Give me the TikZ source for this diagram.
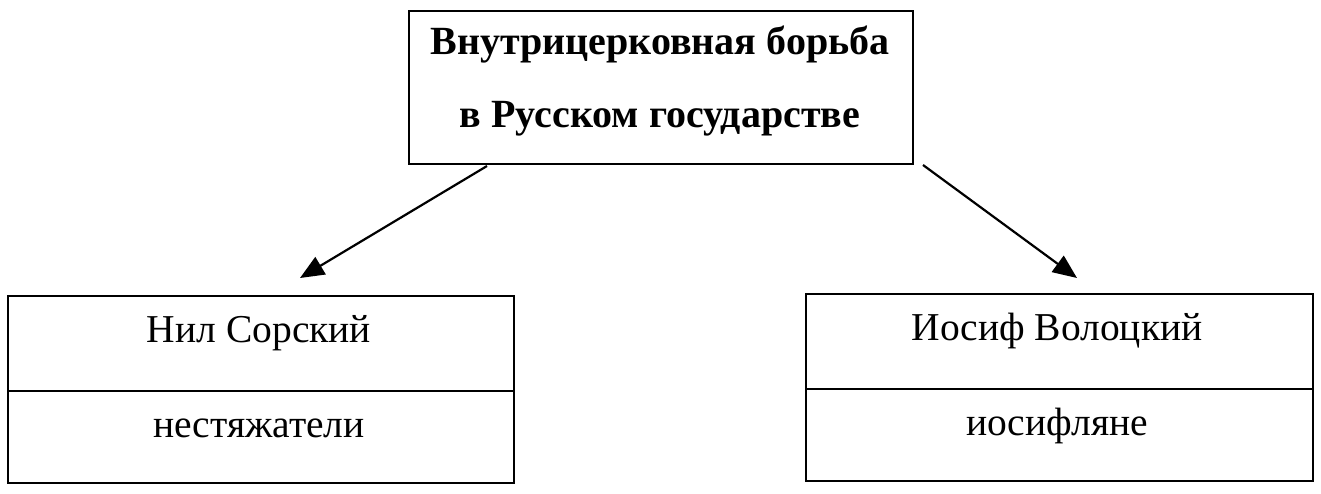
\documentclass[tikz,border=0pt]{standalone}
\usepackage{fontspec}
\setmainfont{Liberation Serif}
\usetikzlibrary{arrows.meta}
\begin{document}
\begin{tikzpicture}[x=1pt,y=-1pt,
  box/.style={draw, line width=1.8pt, inner sep=0pt, minimum width=#1},
  ttl/.style={anchor=base, inner sep=0pt, font=\fontsize{40}{44}\selectfont\bfseries},
  lbl/.style={anchor=base, inner sep=0pt, font=\fontsize{39.5}{44}\selectfont},
  arr/.style={line width=2.2pt, -{Triangle[length=24pt,width=20pt]}}]
\useasboundingbox (0,0) rectangle (1321,493);
% top box
\node[box=504pt, minimum height=153pt] (top) at (661,87.5) {};
\node[ttl] (t1) at (660,54) {Внутрицерковная борьба};
\node[ttl] (t2) at (660,127) {в Русском государстве};
% left boxes
\node[box=506pt, minimum height=95pt] (lu) at (261,343.5) {};
\node[box=506pt, minimum height=92pt] (ll) at (261,437) {};
\node[lbl] (nil) at (259,342) {Нил Сорский};
\node[lbl] (nest) at (259,437) {нестяжатели};
% right boxes
\node[box=507pt, minimum height=95pt] (ru) at (1059.5,341.5) {};
\node[box=507pt, minimum height=92pt] (rl) at (1059.5,435) {};
\node[lbl] (ios) at (1057,340) {Иосиф Волоцкий};
\node[lbl] (iosl) at (1057,435) {иосифляне};
% arrows
\coordinate (as1) at (487,166);
\coordinate (ae1) at (300,278);
\coordinate (as2) at (923,165);
\coordinate (ae2) at (1077,278);
\draw[arr] (as1) -- (ae1);
\draw[arr] (as2) -- (ae2);
\end{tikzpicture}
\end{document}
